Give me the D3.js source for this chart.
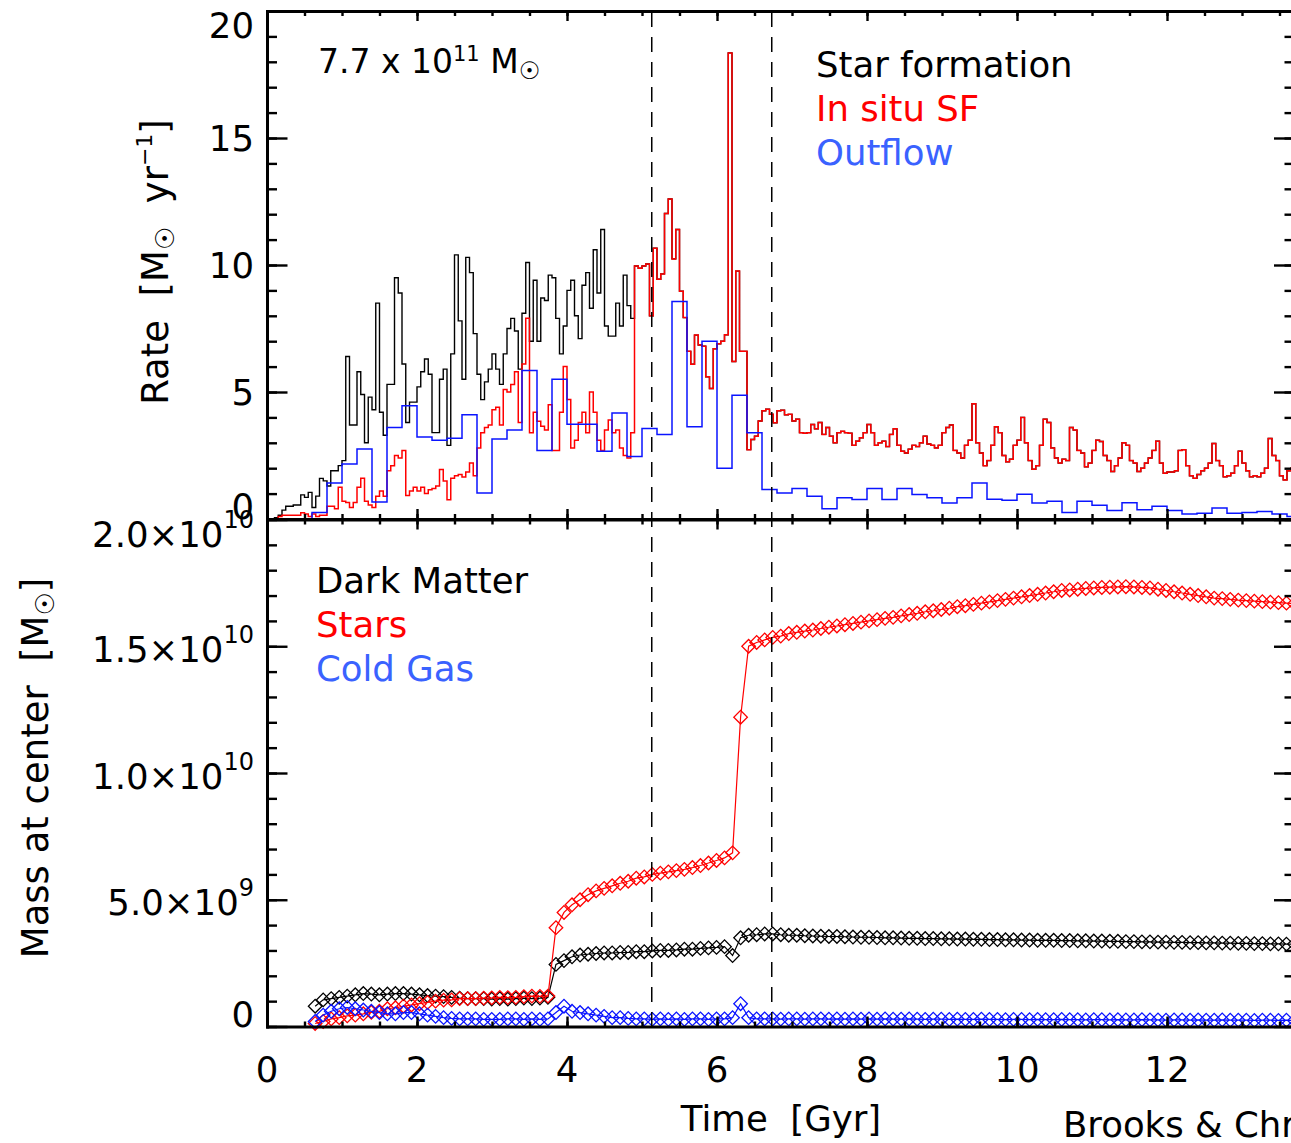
<!DOCTYPE html>
<html>
<head>
<meta charset="utf-8">
<script src="https://cdn.jsdelivr.net/npm/d3@7"></script>
<style>
  body { margin: 0; background: #fff; }
  svg { display: block; font-family: "DejaVu Sans", sans-serif; }
  .axis .domain { stroke: #000; stroke-width: 3; stroke-linecap: square; }
  .axis .tick line { stroke: #000; stroke-width: 2.4; }
  .minor .domain { stroke: none; }
</style>
</head>
<body>
<div id="chart"></div>
<script>
// ---------------- data ----------------
// star formation histograms: 50 Myr bins starting at t = 0
const sfBinWidth = 0.05;
// total star formation, bins 0..97 (before the in situ burst at ~4.9 Gyr)
const sfrTotalEarly = [
  0, 0, 0.05, 0.15, 0.35, 0.5, 0.5, 0.55, 0.55, 0.95,
  0.85, 1.05, 0.45, 0.9, 1.6, 1.5, 1.3, 1.9, 1.9, 2.1, 2.3,
  6.4, 3.7, 3.7, 5.8, 4.9, 3.0, 4.8, 4.3, 8.5, 4.2,
  3.3, 5.3, 5.3, 9.5, 8.9, 6.1, 3.8, 4.6, 4.6, 5.2,
  5.8, 6.3, 5.7, 3.4, 3.4, 5.5, 5.9, 2.9, 6.5, 10.4,
  7.8, 5.5, 10.3, 9.7, 7.3, 5.7, 4.7, 5.4, 5.9, 6.5,
  5.9, 5.3, 6.5, 7.5, 7.9, 7.4, 5.9, 8.1, 10.1, 7.0,
  9.4, 7.0, 8.7, 8.6, 9.6, 9.5, 7.9, 6.5, 7.6, 9.0,
  9.4, 8.0, 7.1, 9.2, 9.7, 8.3, 10.6, 8.9, 11.4, 7.6,
  7.2, 7.2, 8.5, 7.6, 9.6, 8.4, 7.9
];
// in situ star formation, bins 0..97
const sfrInSituEarly = [
  0, 0, 0, 0.1, 0.15, 0.15, 0.15, 0.15, 0.15, 0.25,
  0.2, 0.1, 0.2, 0.1, 0.15, 0.15, 0.5, 0.5, 0.4, 1.25,
  0.7, 0.65, 0.45, 0.65, 1.25, 1.6, 0.7, 0.55, 0.45, 0.9,
  1.1, 0.9, 1.9, 2.1, 2.5, 2.4, 2.7, 0.93, 1.1, 1.25,
  1.1, 1.25, 1.0, 1.15, 1.2, 1.3, 1.95, 1.5, 0.76, 1.6,
  1.7, 1.75, 1.65, 1.85, 2.2, 1.7, 2.8, 3.4, 3.6, 3.7,
  4.3, 4.4, 3.7, 5.1, 5.0, 5.3, 5.8, 3.8, 6.1, 7.9,
  3.4, 4.2, 3.85, 3.65, 3.5, 4.5, 2.7, 2.7, 4.2, 6.0,
  4.7, 2.8, 3.1, 3.8, 4.2, 3.4, 5.0, 4.2, 3.1, 2.7,
  3.5, 3.9, 3.4, 3.5, 2.8, 2.5, 2.4, 3.4
];
// bins 98..273: total and in situ coincide
const sfrLate = [
  9.96, 9.87, 9.96, 10.04, 8.0, 10.66, 9.44, 9.65, 12.03, 12.6,
  10.24, 11.4, 8.97, 7.93, 6.6, 6.09, 7.24, 6.85, 6.8, 5.6,
  5.14, 6.7, 6.9, 7.0, 7.25, 18.35, 6.2, 9.76, 6.6, 6.6,
  2.73, 3.13, 3.26, 3.86, 4.26, 4.32, 4.12, 3.79, 4.26, 4.28,
  4.1, 4.12, 3.86, 3.93, 3.4, 3.38, 3.4, 3.72, 3.55, 3.8,
  3.33, 3.6, 3.26, 3.0, 3.4, 3.45, 3.4, 3.38, 2.9, 3.06,
  3.2, 3.4, 3.72, 3.4, 2.9, 3.0, 3.06, 2.85, 3.33, 3.55,
  2.9, 2.67, 2.6, 2.75, 2.9, 2.85, 3.0, 3.26, 2.95, 2.9,
  2.8, 2.9, 3.4, 3.6, 3.7, 2.7, 2.6, 2.4, 2.9, 3.1,
  4.54, 3.0, 2.6, 2.1, 2.3, 2.9, 3.63, 3.4, 2.5, 2.25,
  2.35, 2.9, 3.1, 4.0, 3.0, 2.3, 1.96, 2.1, 2.9, 3.93,
  3.8, 2.8, 2.4, 2.2, 2.35, 2.3, 3.6, 3.5, 2.7, 2.6,
  2.06, 2.2, 2.7, 3.1, 3.05, 2.5, 2.3, 1.87, 2.1, 2.4,
  3.0, 2.9, 2.3, 2.2, 1.87, 2.0, 2.2, 2.4, 2.7, 3.06,
  2.2, 1.8, 1.85, 1.85, 1.9, 2.7, 2.73, 2.1, 1.7, 1.6,
  1.75, 1.9, 2.0, 2.2, 2.97, 2.3, 2.1, 1.66, 1.7, 1.8,
  2.1, 2.67, 2.2, 1.9, 1.66, 1.7, 1.66, 1.8, 2.0, 3.17,
  2.5, 2.3, 1.7, 1.54, 1.9, 2.0
];
// outflow rate: 200 Myr bins starting at 0.6 Gyr
const outflowStart = 0.6;
const outflowBinWidth = 0.2;
const outflowRate = [
  0.26, 1.42, 2.17, 2.76, 0.67, 3.6, 4.46, 3.23, 3.1, 3.18,
  4.1, 1.02, 3.15, 3.5, 5.85, 2.7, 5.5, 3.73, 3.73, 2.67,
  4.17, 2.46, 3.56, 3.33, 8.56, 3.63, 7.0, 2.0, 4.87, 3.4,
  1.16, 1.02, 1.2, 0.9, 0.4, 0.84, 0.77, 1.2, 0.77, 1.2,
  0.96, 0.84, 0.63, 0.84, 1.42, 0.78, 0.74, 0.97, 0.63, 0.7,
  0.26, 0.7, 0.54, 0.33, 0.64, 0.36, 0.5, 0.33, 0.2, 0.23,
  0.43, 0.23, 0.26, 0.3, 0.2, 0.1
];

// central masses (units of 1e9 Msun) at simulation outputs, first at 0.642 Gyr, every ~107 Myr
const snapStart = 0.642;
const snapStep = 0.10703;
const massDarkMatter = [
  0.8, 1.05, 1.1, 1.15, 1.2, 1.25, 1.3, 1.28, 1.25, 1.28,
  1.3, 1.3, 1.28, 1.25, 1.22, 1.2, 1.18, 1.15, 1.12, 1.1,
  1.1, 1.1, 1.08, 1.1, 1.08, 1.1, 1.12, 1.1, 1.12, 1.15,
  2.45, 2.6, 2.75, 2.82, 2.85, 2.88, 2.9, 2.9, 2.92, 2.92,
  2.95, 2.95, 2.98, 3.0, 3.0, 3.02, 3.05, 3.05, 3.08, 3.1,
  3.12, 3.15, 2.8, 3.5, 3.6, 3.62, 3.65, 3.65, 3.62, 3.6,
  3.6, 3.58, 3.57, 3.56, 3.55, 3.55, 3.54, 3.53, 3.52, 3.52,
  3.51, 3.5, 3.5, 3.49, 3.48, 3.48, 3.47, 3.47, 3.46, 3.46,
  3.45, 3.45, 3.44, 3.44, 3.43, 3.43, 3.42, 3.42, 3.41, 3.41,
  3.4, 3.4, 3.4, 3.39, 3.39, 3.38, 3.38, 3.37, 3.37, 3.36,
  3.36, 3.35, 3.35, 3.34, 3.34, 3.33, 3.33, 3.32, 3.32, 3.31,
  3.31, 3.3, 3.3, 3.29, 3.29, 3.28, 3.28, 3.27, 3.27, 3.26,
  3.26, 3.25, 3.25
];
const massStars = [
  0.12, 0.2, 0.3, 0.35, 0.42, 0.45, 0.5, 0.56, 0.6, 0.7,
  0.74, 0.8, 0.85, 0.9, 0.95, 1.0, 1.04, 1.05, 1.1, 1.1,
  1.1, 1.12, 1.13, 1.15, 1.14, 1.15, 1.18, 1.2, 1.19, 1.2,
  3.9, 4.5, 4.8, 5.0, 5.2, 5.35, 5.45, 5.55, 5.65, 5.73,
  5.85, 5.9, 6.0, 6.05, 6.1, 6.15, 6.2, 6.27, 6.35, 6.45,
  6.55, 6.65, 6.85, 12.2, 15.0, 15.15, 15.25, 15.35, 15.4, 15.5,
  15.55, 15.6, 15.64, 15.7, 15.75, 15.8, 15.85, 15.9, 15.95, 16.0,
  16.05, 16.1, 16.14, 16.2, 16.25, 16.3, 16.36, 16.4, 16.45, 16.5,
  16.56, 16.6, 16.65, 16.7, 16.75, 16.8, 16.85, 16.9, 16.95, 17.0,
  17.05, 17.1, 17.15, 17.2, 17.22, 17.25, 17.28, 17.3, 17.32, 17.33,
  17.34, 17.35, 17.34, 17.32, 17.3, 17.25, 17.2, 17.15, 17.1, 17.05,
  17.0, 16.95, 16.9, 16.88, 16.85, 16.82, 16.8, 16.78, 16.76, 16.74,
  16.72, 16.7, 16.68
];
const massColdGas = [
  0.2, 0.45, 0.6, 0.7, 0.75, 0.7, 0.65, 0.6, 0.55, 0.5,
  0.5, 0.55, 0.55, 0.5, 0.45, 0.4, 0.35, 0.32, 0.3, 0.3,
  0.3, 0.28, 0.28, 0.28, 0.3, 0.3, 0.28, 0.3, 0.28, 0.3,
  0.55, 0.8, 0.6, 0.55, 0.5, 0.45, 0.4, 0.35, 0.35, 0.32,
  0.3, 0.3, 0.28, 0.3, 0.28, 0.3, 0.28, 0.3, 0.3, 0.28,
  0.3, 0.3, 0.35, 0.9, 0.35, 0.3, 0.3, 0.3, 0.29, 0.3,
  0.3, 0.29, 0.3, 0.3, 0.29, 0.3, 0.29, 0.3, 0.29, 0.3,
  0.29, 0.3, 0.29, 0.29, 0.3, 0.29, 0.28, 0.29, 0.29, 0.28,
  0.29, 0.28, 0.28, 0.29, 0.28, 0.28, 0.27, 0.28, 0.28, 0.27,
  0.28, 0.27, 0.27, 0.28, 0.27, 0.27, 0.26, 0.27, 0.27, 0.26,
  0.27, 0.26, 0.26, 0.27, 0.26, 0.26, 0.25, 0.26, 0.26, 0.25,
  0.26, 0.25, 0.25, 0.26, 0.25, 0.25, 0.25, 0.24, 0.25, 0.25,
  0.24, 0.25, 0.24
];

// axes / annotations
const timeMax = 13.7;
const timeTicks = [0, 2, 4, 6, 8, 10, 12];
const rateTicks = [0, 5, 10, 15, 20];
const massTicks = [0, 5, 10, 15, 20];              // in 1e9
const massTickLabels = [["0", ""], ["5.0×10", "9"], ["1.0×10", "10"], ["1.5×10", "10"], ["2.0×10", "10"]];
const markTimes = [5.13, 6.73];                      // dashed lines
const rateLegend = ["Star formation", "In situ SF", "Outflow"];
const massLegend = ["Dark Matter", "Stars", "Cold Gas"];

// ---------------- drawing ----------------
const W = 1291, H = 1143;
const BLACK = "#000", RED = "#ff0000", BLUE = "#0a14ff", BLUE_TXT = "#3a62ff";
const SP = "\u00a0"; // hard space, keeps the wide gaps in titles

const svg = d3.select("#chart").append("svg")
    .attr("width", W).attr("height", H);

const x = d3.scaleLinear().domain([0, timeMax]).range([267, 1294.5]);
const yRate = d3.scaleLinear().domain([0, 20]).range([519, 11]);
const yMass = d3.scaleLinear().domain([0, 20]).range([1026.5, 519.5]);

// step series helpers
function stepPts(vals, t0, dt, fromZero) {
  const pts = [];
  if (fromZero) pts.push([t0, 0]);
  vals.forEach((v, i) => pts.push([t0 + i * dt, v]));
  pts.push([Math.min(t0 + vals.length * dt, timeMax), vals[vals.length - 1]]);
  return pts;
}
const stepLine = d3.line()
    .x(d => x(d[0])).y(d => yRate(d[1]))
    .curve(d3.curveStepAfter);

const sfrTotal = sfrTotalEarly.concat(sfrLate);
const sfrInSitu = sfrInSituEarly.concat(sfrLate);

const gRate = svg.append("g");
gRate.append("path").datum(stepPts(sfrTotal, 0, sfBinWidth, false))
    .attr("d", stepLine).attr("fill", "none").attr("stroke", BLACK).attr("stroke-width", 1.4);
gRate.append("path").datum(stepPts(sfrInSitu, 0, sfBinWidth, false))
    .attr("d", stepLine).attr("fill", "none").attr("stroke", RED).attr("stroke-width", 1.5);
gRate.append("path").datum(stepPts(outflowRate, outflowStart, outflowBinWidth, true))
    .attr("d", stepLine).attr("fill", "none").attr("stroke", BLUE).attr("stroke-width", 1.5);

// bottom panel: line + diamonds
const gMass = svg.append("g");
const massLine = d3.line()
    .x((d, i) => x(snapStart + i * snapStep))
    .y(d => yMass(d));
const diamond = d3.symbol().type(d3.symbolSquare).size(92);
[[massDarkMatter, BLACK], [massStars, RED], [massColdGas, BLUE]].forEach(([vals, col]) => {
  gMass.append("path").datum(vals).attr("d", massLine)
      .attr("fill", "none").attr("stroke", col).attr("stroke-width", 1.2);
  gMass.selectAll(null).data(vals).enter().append("path")
      .attr("d", diamond)
      .attr("transform", (d, i) => `translate(${x(snapStart + i * snapStep)},${yMass(d)}) rotate(45)`)
      .attr("fill", "none").attr("stroke", col).attr("stroke-width", 1.3);
});

// dashed markers through both panels
svg.selectAll(".mark").data(markTimes).enter().append("line")
    .attr("x1", d => x(d)).attr("x2", d => x(d))
    .attr("y1", 12).attr("y2", 1026)
    .attr("stroke", "#000").attr("stroke-width", 1.5)
    .attr("stroke-dasharray", "15,10");

// ---- axes (IDL style: inward ticks on all sides) ----
const minorTime = d3.range(0, timeMax, 0.5);
function axisPair(make, scale, transform, majors, minors, majLen, minLen) {
  svg.append("g").attr("class", "axis minor").attr("transform", transform)
      .call(make(scale).tickValues(minors).tickSize(-minLen).tickSizeOuter(0).tickFormat(""));
  svg.append("g").attr("class", "axis").attr("transform", transform)
      .call(make(scale).tickValues(majors).tickSize(-majLen).tickSizeOuter(0).tickFormat(""));
}
// top panel
axisPair(d3.axisLeft, yRate, "translate(267,0)", rateTicks, d3.range(0, 21, 1), 20.5, 10);
axisPair(d3.axisRight, yRate, "translate(1294.5,0)", rateTicks, d3.range(0, 21, 1), 20.5, 10);
axisPair(d3.axisBottom, x, "translate(0,519)", timeTicks, minorTime, 10, 5);
axisPair(d3.axisTop, x, "translate(0,11)", timeTicks, minorTime, 10, 5);
// bottom panel
axisPair(d3.axisLeft, yMass, "translate(267,0)", massTicks, d3.range(0, 21, 1), 20.5, 10);
axisPair(d3.axisRight, yMass, "translate(1294.5,0)", massTicks, d3.range(0, 21, 1), 20.5, 10);
axisPair(d3.axisTop, x, "translate(0,519.5)", timeTicks, minorTime, 10, 5);
axisPair(d3.axisBottom, x, "translate(0,1026.5)", timeTicks, minorTime, 10, 5);

// ---- text helpers ----
// parts: [text, size, baselineShift(px, negative = up)]
function rich(g, px, py, parts, opt = {}) {
  const t = g.append("text").attr("x", px).attr("y", py)
      .attr("font-size", opt.size || 35.5)
      .attr("fill", opt.fill || "#000")
      .attr("text-anchor", opt.anchor || "start");
  if (opt.rotate) t.attr("transform", `rotate(${opt.rotate},${px},${py})`);
  let cur = 0;
  parts.forEach(([s, size, shift]) => {
    const sh = shift || 0;
    const ts = t.append("tspan").attr("dy", sh - cur).text(s);
    if (size) ts.attr("font-size", size);
    cur = sh;
  });
  return t;
}
const labels = svg.append("g");

// rate tick labels
rateTicks.forEach((v, i) => {
  const nudge = i === 0 ? -13 : (i === rateTicks.length - 1 ? 14 : 0);
  labels.append("text").attr("x", 254).attr("y", yRate(v) + 13 + nudge)
      .attr("text-anchor", "end").attr("font-size", 35.5).text(String(v));
});
// mass tick labels
massTicks.forEach((v, i) => {
  const nudge = i === 0 ? -13 : (i === massTicks.length - 1 ? 14 : 2.5);
  const [base, sup] = massTickLabels[i];
  const parts = [[base]];
  if (sup) parts.push([sup, 24, -19]);
  rich(labels, 254, yMass(v) + 13 + nudge, parts, { anchor: "end" });
});
// time tick labels
timeTicks.forEach(v => {
  labels.append("text").attr("x", x(v)).attr("y", 1082)
      .attr("text-anchor", "middle").attr("font-size", 35.5).text(String(v));
});

// axis titles
rich(labels, 781, 1131, [["Time" + SP + SP + "[Gyr]"]], { anchor: "middle" });
rich(labels, 168, 262,
    [["Rate" + SP + SP + "[M"], ["☉", 26, 6], [SP + SP + "yr", null, 0], ["−1", 22, -16], ["]", null, 0]],
    { anchor: "middle", rotate: -90, size: 37 });
rich(labels, 48, 768, [["Mass at center" + SP + SP + "[M"], ["☉", 26, 6], ["]", null, 0]],
    { anchor: "middle", rotate: -90, size: 37 });
rich(labels, 1063, 1137, [["Brooks & Christensen"]], { size: 35.5 });

// top-left annotation
rich(labels, 318, 73, [["7.7 x 10"], ["11", 21, -12], [SP + "M", null, 0], ["☉", 24, 6]], { size: 33 });

// legends
const rateCols = [BLACK, RED, BLUE_TXT];
rateLegend.forEach((s, i) => {
  labels.append("text").attr("x", 816).attr("y", 77 + i * 44)
      .attr("font-size", 35.5).attr("fill", rateCols[i]).text(s);
});
massLegend.forEach((s, i) => {
  labels.append("text").attr("x", 316).attr("y", 593 + i * 44)
      .attr("font-size", 35.5).attr("fill", rateCols[i]).text(s);
});
</script>
</body>
</html>
